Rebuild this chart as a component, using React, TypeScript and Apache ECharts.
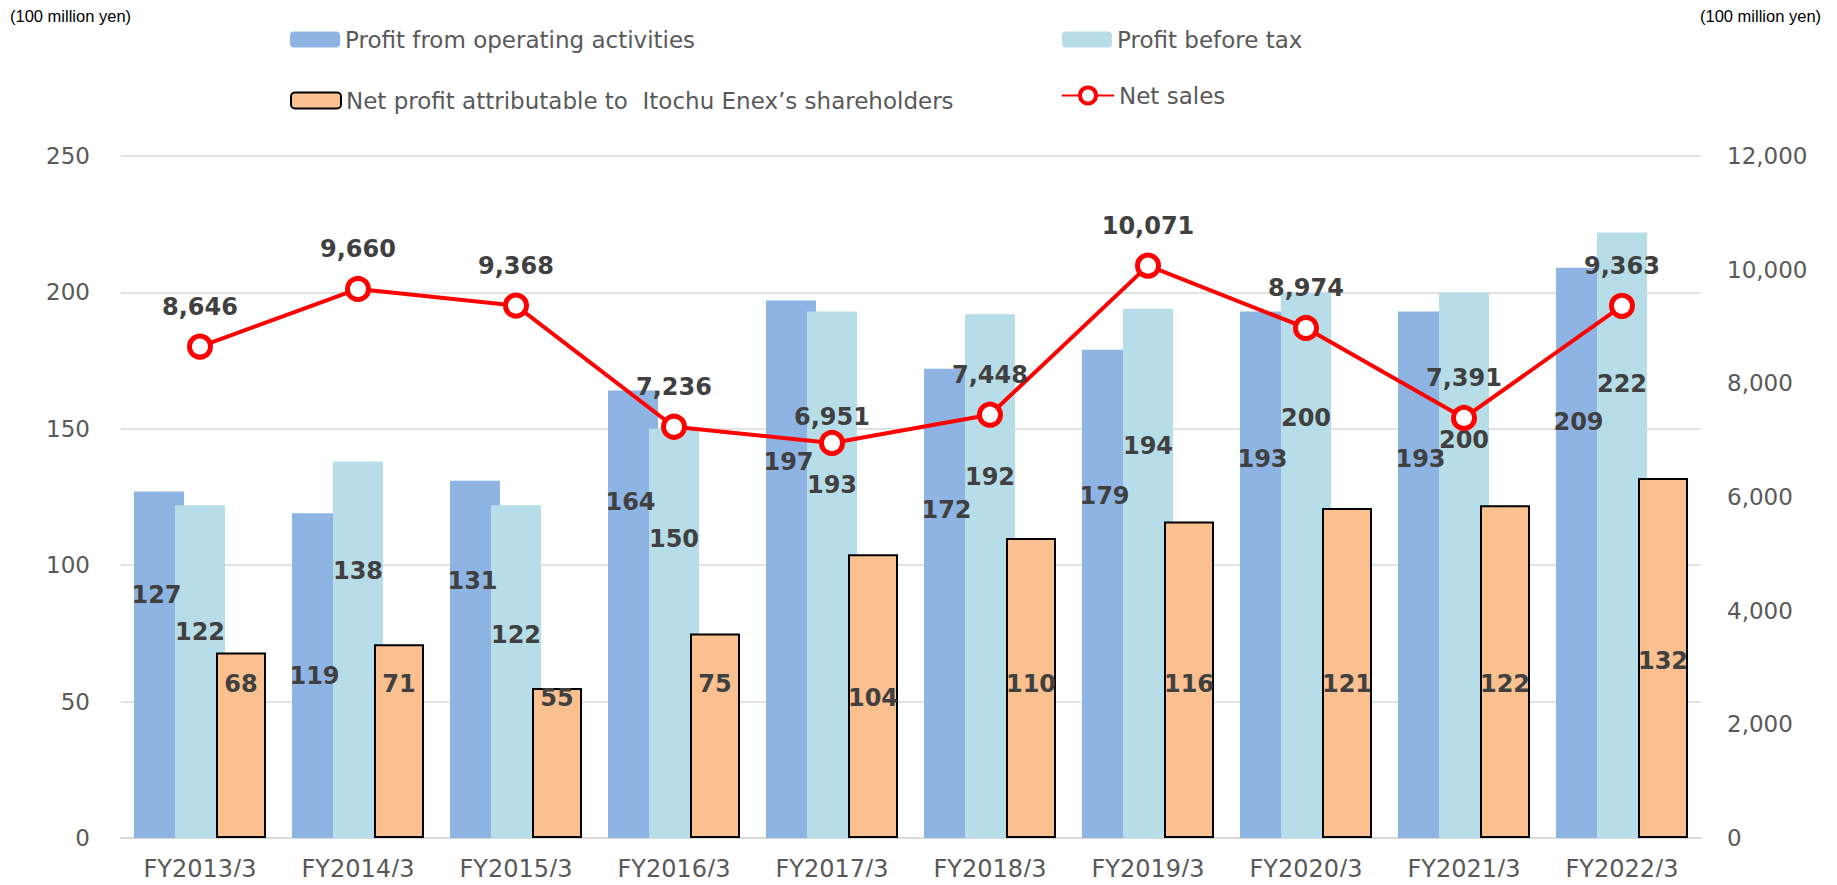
import React, { useEffect, useRef } from "react";
import * as echarts from "echarts";

const categories = [
  "FY2013/3", "FY2014/3", "FY2015/3", "FY2016/3", "FY2017/3",
  "FY2018/3", "FY2019/3", "FY2020/3", "FY2021/3", "FY2022/3",
];
const operatingProfit = [127, 119, 131, 164, 197, 172, 179, 193, 193, 209];
const profitBeforeTax = [122, 138, 122, 150, 193, 192, 194, 200, 200, 222];
const netProfit = [68, 71, 55, 75, 104, 110, 116, 121, 122, 132];
const netSales = [8646, 9660, 9368, 7236, 6951, 7448, 10071, 8974, 7391, 9363];

const seriesNames = [
  "Profit from operating activities",
  "Profit before tax",
  "Net profit attributable to  Itochu Enex\u2019s shareholders",
  "Net sales",
];
const unitLabel = "(100 million yen)";

const AXIS_FONT = "'DejaVu Sans', Verdana, sans-serif";
const UNIT_FONT = "'Liberation Sans', Arial, sans-serif";
const GREY = "#595959";
const DARK = "#404040";

const fmt = (v: number) => v.toLocaleString("en-US");

const labelBase = {
  show: true,
  color: DARK,
  fontFamily: AXIS_FONT,
  fontWeight: "bold" as const,
  fontSize: 24,
  align: "center" as const,
  verticalAlign: "middle" as const,
};

export default function App() {
  const ref = useRef<HTMLDivElement>(null);

  useEffect(() => {
    if (!ref.current) return;
    const chart = echarts.init(ref.current, null, { renderer: "svg" });

    // label placement tweaks (fraction of bar height from its top)
    const blueOverride: Record<number, string> = {
      1: "50%", 2: "28%", 3: "25%", 7: "28%", 8: "28%", 9: "27%",
    };
    const lbOverride: Record<number, string> = {
      0: "38%", 2: "39%", 3: "27%", 4: "33%", 5: "31%", 6: "26%", 7: "23%", 8: "27%", 9: "25%",
    };
    const orangeOverride: Record<number, number> = { 2: 128, 4: 128, 9: 165 };
    const lineOverride: Record<number, number> = { 4: 1 };

    const opData = operatingProfit.map((v, i) => ({
      value: v,
      label: { ...labelBase, position: ["45%", blueOverride[i] ?? "30%"] },
    }));
    const pbtData = profitBeforeTax.map((v, i) => ({
      value: v,
      label: { ...labelBase, position: ["50%", lbOverride[i] ?? "29%"] },
    }));
    const npData = netProfit.map((v, i) => ({
      value: v,
      label: {
        show: true,
        color: DARK,
        fontFamily: AXIS_FONT,
        fontWeight: "bold" as const,
        fontSize: 24,
        position: "insideBottom",
        distance: orangeOverride[i] ?? 142,
      },
    }));
    const salesData = netSales.map((v, i) => ({
      value: v,
      label: {
        show: true,
        color: DARK,
        fontFamily: AXIS_FONT,
        fontWeight: "bold" as const,
        fontSize: 24,
        position: "top",
        distance: lineOverride[i] ?? 15,
        formatter: (p: any) => fmt(p.value),
      },
    }));

    const legendText = { fontFamily: AXIS_FONT, fontSize: 23, color: GREY };
    const legendCommon = {
      orient: "horizontal" as const,
      padding: 0,
      itemWidth: 50,
      itemHeight: 16,
      textStyle: legendText,
    };

    chart.setOption({
      animation: false,
      backgroundColor: "#ffffff",
      textStyle: { fontFamily: AXIS_FONT },
      graphic: [
        {
          type: "text",
          left: 10,
          top: 7,
          style: { text: unitLabel, font: `16.5px ${UNIT_FONT}`, fill: "#000" },
        },
        {
          type: "text",
          left: 1700,
          top: 7,
          style: { text: unitLabel, font: `16.5px ${UNIT_FONT}`, fill: "#000" },
        },
      ],
      legend: [
        { ...legendCommon, left: 290, top: 28, data: [seriesNames[0]] },
        { ...legendCommon, left: 1062, top: 28, data: [seriesNames[1]] },
        { ...legendCommon, left: 290, top: 89, data: [seriesNames[2]] },
        {
          ...legendCommon,
          left: 1061,
          top: 84,
          itemWidth: 52,
          itemHeight: 20,
          itemStyle: { borderWidth: 4 },
          data: [seriesNames[3]],
        },
      ],
      grid: { left: 121, right: 136, top: 156, bottom: 47, containLabel: false },
      xAxis: {
        type: "category",
        data: categories,
        axisTick: { show: false },
        axisLine: { lineStyle: { color: "#D9D9D9", width: 2 } },
        axisLabel: { color: GREY, fontSize: 24, fontFamily: AXIS_FONT, margin: 19 },
      },
      yAxis: [
        {
          type: "value",
          min: 0,
          max: 250,
          interval: 50,
          axisLine: { show: false },
          axisTick: { show: false },
          splitLine: { lineStyle: { color: "#D9D9D9", width: 1.5 } },
          axisLabel: { color: GREY, fontSize: 23, fontFamily: AXIS_FONT, margin: 31 },
        },
        {
          type: "value",
          min: 0,
          max: 12000,
          interval: 2000,
          axisLine: { show: false },
          axisTick: { show: false },
          splitLine: { show: false },
          axisLabel: {
            color: GREY,
            fontSize: 23,
            fontFamily: AXIS_FONT,
            margin: 26,
            formatter: (v: number) => fmt(v),
          },
        },
      ],
      series: [
        {
          name: seriesNames[0],
          type: "bar",
          barWidth: 50,
          barGap: "-18%",
          itemStyle: { color: "#8EB4E3" },
          data: opData,
          z: 2,
        },
        {
          name: seriesNames[1],
          type: "bar",
          barWidth: 50,
          barGap: "-18%",
          itemStyle: { color: "#B7DDE8" },
          data: pbtData,
          z: 2,
        },
        {
          name: seriesNames[2],
          type: "bar",
          barWidth: 50,
          barGap: "-18%",
          itemStyle: { color: "#FAC090", borderColor: "#000", borderWidth: 2 },
          data: npData,
          z: 2,
        },
        {
          name: seriesNames[3],
          type: "line",
          yAxisIndex: 1,
          symbol: "circle",
          symbolSize: 21,
          lineStyle: { color: "#FF0000", width: 4 },
          itemStyle: { color: "#FFFFFF", borderColor: "#FF0000", borderWidth: 5 },
          data: salesData,
          z: 5,
        },
      ],
    });

    return () => chart.dispose();
  }, []);

  return <div ref={ref} style={{ width: 1837, height: 885, margin: -8 }} />;
}
